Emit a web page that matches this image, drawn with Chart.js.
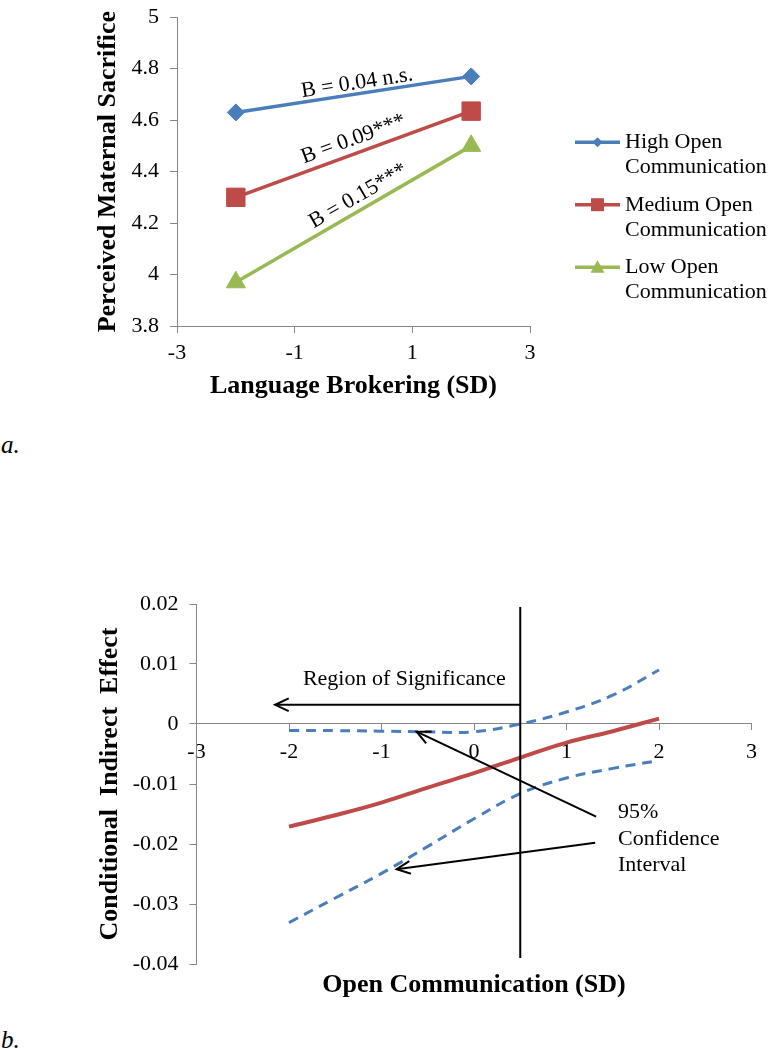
<!DOCTYPE html>
<html>
<head>
<meta charset="utf-8">
<script src="https://cdn.jsdelivr.net/npm/chart.js@4.4.0/dist/chart.umd.min.js"></script>
<style>
  html, body { margin: 0; padding: 0; background: #fff; }
  body { width: 768px; height: 1050px; position: relative; overflow: hidden; font-family: "Liberation Serif", "Times New Roman", serif; }
  .box { position: absolute; left: 0; width: 768px; }
  #box-a { top: -7px; height: 420px; }
  #box-b { top: 560px; height: 450px; }
  .tag { position: absolute; left: 1px; font-style: italic; font-size: 25px; line-height: 25px; color: #000; }
</style>
</head>
<body>
<div class="box" id="box-a"><canvas id="chart-a"></canvas></div>
<div class="tag" style="top:432px">a.</div>
<div class="box" id="box-b"><canvas id="chart-b"></canvas></div>
<div class="tag" style="top:1027px">b.</div>
<script>
// ---- panel a: simple slopes ----
const brokeringX = [-2, 2];
const highOpen = [4.63, 4.77];
const mediumOpen = [4.30, 4.635];
const lowOpen = [3.97, 4.50];
const seriesNames = ["High Open Communication", "Medium Open Communication", "Low Open Communication"];
const legendLines = [["High Open", "Communication"], ["Medium Open", "Communication"], ["Low Open", "Communication"]];
const slopeLabels = ["B = 0.04 n.s.", "B = 0.09***", "B = 0.15***"];
const slopeLabelX = [0.06, 0.0, 0.08];
const slopeLabelY = [4.744, 4.526, 4.305];

// ---- panel b: region of significance ----
const openX = [-2, -1.5, -1, -0.5, 0, 0.5, 1, 1.5, 2];
const indirectEffect = [-0.0171, -0.0152, -0.0131, -0.0106, -0.0082, -0.0056, -0.0031, -0.0012, 0.0009];
const ciUpper = [-0.0011, -0.0011, -0.0012, -0.0013, -0.0013, 0.0000, 0.0020, 0.0048, 0.0090];
const ciLower = [-0.0331, -0.0290, -0.0249, -0.0204, -0.0158, -0.0116, -0.0090, -0.0074, -0.0061];
const cutoffX = [0.5, 0.5];
const cutoffY = [0.0195, -0.039];
const regionArrowX = [0.5, -2.15];
const regionArrowY = [0.0032, 0.0032];
const ciArrow1X = [1.32, -0.62];
const ciArrow1Y = [-0.01545, -0.00128];
const ciArrow2X = [1.31, -0.836];
const ciArrow2Y = [-0.0198, -0.0242];
const regionText = "Region of Significance";
const regionTextPos = [-1.85, 0.0065];
const ciText = ["95%", "Confidence", "Interval"];
const ciTextPos = [1.557, -0.01567];

const blue = "#4A7EBB";
const red = "#BE4B48";
const green = "#98B954";
const axisGray = "#868686";
const serif = '"Liberation Serif", "Times New Roman", serif';

Chart.defaults.font.family = serif;
Chart.defaults.font.size = 22;
Chart.defaults.color = "#000";

const pts = (xs, ys) => xs.map((v, i) => ({ x: v, y: ys[i] }));

function marker(ctx, style, x, y, r) {
	ctx.beginPath();
	if (style === "rectRot") {
		ctx.moveTo(x, y - r); ctx.lineTo(x + r, y); ctx.lineTo(x, y + r); ctx.lineTo(x - r, y);
	} else if (style === "rect") {
		ctx.rect(x - r, y - r, 2 * r, 2 * r);
	} else {
		ctx.moveTo(x, y - r); ctx.lineTo(x + r, y + r * 0.8); ctx.lineTo(x - r, y + r * 0.8);
	}
	ctx.closePath();
	ctx.fill();
}

const slopeText = {
	id: "slopeText",
	afterDatasetsDraw(chart) {
		const { ctx } = chart;
		const { x, y } = chart.scales;
		ctx.save();
		ctx.font = "22px " + serif;
		ctx.fillStyle = "#000";
		ctx.textAlign = "center";
		ctx.textBaseline = "middle";
		slopeLabels.forEach((t, i) => {
			const p = chart.getDatasetMeta(i).data;
			const ang = Math.atan2(p[1].y - p[0].y, p[1].x - p[0].x);
			ctx.save();
			ctx.translate(x.getPixelForValue(slopeLabelX[i]), y.getPixelForValue(slopeLabelY[i]));
			ctx.rotate(ang);
			ctx.fillText(t, 0, 0);
			ctx.restore();
		});
		ctx.restore();
	},
	afterDraw(chart) {
		// legend on the right, two lines per entry
		const { ctx, chartArea } = chart;
		const sizes = [5, 6.5, 7];
		ctx.save();
		ctx.font = "22px " + serif;
		ctx.textAlign = "left";
		ctx.textBaseline = "alphabetic";
		chart.data.datasets.forEach((ds, i) => {
			const my = chartArea.top + 125 + i * 62.5;
			const x0 = chartArea.right + 45;
			ctx.strokeStyle = ds.borderColor;
			ctx.lineWidth = 3.5;
			ctx.beginPath();
			ctx.moveTo(x0, my);
			ctx.lineTo(x0 + 45, my);
			ctx.stroke();
			ctx.fillStyle = ds.borderColor;
			marker(ctx, ds.pointStyle, x0 + 22.5, my, sizes[i]);
			ctx.fillStyle = "#000";
			legendLines[i].forEach((line, j) => ctx.fillText(line, x0 + 50, my + 6 + j * 25));
		});
		ctx.restore();
	}
};

const chartA = new Chart(document.getElementById("chart-a"), {
	type: "line",
	data: {
		datasets: [
			{ label: seriesNames[0], data: pts(brokeringX, highOpen), borderColor: blue, backgroundColor: blue, pointStyle: "rectRot", pointRadius: 8.5 },
			{ label: seriesNames[1], data: pts(brokeringX, mediumOpen), borderColor: red, backgroundColor: red, pointStyle: "rect", pointRadius: 13 },
			{ label: seriesNames[2], data: pts(brokeringX, lowOpen), borderColor: green, backgroundColor: green, pointStyle: "triangle", pointRadius: 11 },
		],
	},
	options: {
		responsive: true,
		maintainAspectRatio: false,
		animation: false,
		events: [],
		datasets: { line: { borderWidth: 3.5, tension: 0, fill: false, pointBorderWidth: 1, clip: false } },
		layout: { padding: { top: 14, left: 78, right: 238, bottom: 7 } },
		scales: {
			x: {
				type: "linear",
				min: -3,
				max: 3,
				border: { color: axisGray, width: 1 },
				grid: { drawOnChartArea: false, tickLength: 7, color: axisGray },
				ticks: { stepSize: 2, padding: 7, maxRotation: 0, autoSkip: false },
				title: { display: true, text: "Language Brokering (SD)", font: { size: 26, weight: "bold" }, padding: { top: 0, bottom: 4 } },
				afterFit: (s) => { s.height = 80; },
			},
			y: {
				min: 3.8,
				max: 5,
				border: { color: axisGray, width: 1 },
				grid: { drawOnChartArea: false, tickLength: 7, color: axisGray },
				ticks: { stepSize: 0.2, padding: 11, autoSkip: false, callback: (v) => String(Number(v.toFixed(1))) },
				title: { display: true, text: "Perceived Maternal Sacrifice", font: { size: 26, weight: "bold" }, padding: { top: 15, bottom: 0 } },
				afterFit: (s) => { s.width = 99; },
			},
		},
		plugins: { legend: { display: false }, tooltip: { enabled: false } },
	},
	plugins: [slopeText],
});

const notes = {
	id: "notes",
	afterDatasetsDraw(chart) {
		const { ctx, chartArea } = chart;
		const { x, y } = chart.scales;
		ctx.save();
		// arrow heads on the annotation lines
		chart.data.datasets.forEach((ds, i) => {
			if (!ds.arrow) return;
			const p = chart.getDatasetMeta(i).data;
			const a = Math.atan2(p[1].y - p[0].y, p[1].x - p[0].x);
			const len = 15, spread = 0.44;
			ctx.strokeStyle = "#000";
			ctx.lineWidth = 2;
			ctx.beginPath();
			ctx.moveTo(p[1].x - len * Math.cos(a - spread), p[1].y - len * Math.sin(a - spread));
			ctx.lineTo(p[1].x, p[1].y);
			ctx.lineTo(p[1].x - len * Math.cos(a + spread), p[1].y - len * Math.sin(a + spread));
			ctx.stroke();
		});
		ctx.fillStyle = "#000";
		ctx.textAlign = "left";
		ctx.textBaseline = "alphabetic";
		ctx.font = "22px " + serif;
		ctx.fillText(regionText, x.getPixelForValue(regionTextPos[0]), y.getPixelForValue(regionTextPos[1]));
		const cx = x.getPixelForValue(ciTextPos[0]);
		const cy = y.getPixelForValue(ciTextPos[1]);
		ciText.forEach((t, j) => ctx.fillText(t, cx, cy + j * 26.7));
		// x axis title sits under the plot, the axis itself crosses at zero
		ctx.font = "bold 26px " + serif;
		ctx.textAlign = "center";
		ctx.fillText("Open Communication (SD)", (chartArea.left + chartArea.right) / 2, chartArea.bottom + 28);
		ctx.restore();
	}
};

const chartB = new Chart(document.getElementById("chart-b"), {
	type: "line",
	data: {
		datasets: [
			{ data: pts(cutoffX, cutoffY), borderColor: "#000", borderWidth: 2, order: 0 },
			{ data: pts(regionArrowX, regionArrowY), borderColor: "#000", borderWidth: 2, arrow: true, order: 0 },
			{ data: pts(ciArrow1X, ciArrow1Y), borderColor: "#000", borderWidth: 2, arrow: true, order: 0 },
			{ data: pts(ciArrow2X, ciArrow2Y), borderColor: "#000", borderWidth: 2, arrow: true, order: 0 },
			{ label: "Conditional indirect effect", data: pts(openX, indirectEffect), borderColor: red, borderWidth: 4, tension: 0.4, order: 1 },
			{ label: "Upper 95% CI", data: pts(openX, ciUpper), borderColor: blue, borderWidth: 3, borderDash: [10, 7], tension: 0.4, order: 1 },
			{ label: "Lower 95% CI", data: pts(openX, ciLower), borderColor: blue, borderWidth: 3, borderDash: [10, 7], tension: 0.4, order: 1 },
		],
	},
	options: {
		responsive: true,
		maintainAspectRatio: false,
		animation: false,
		events: [],
		datasets: { line: { pointRadius: 0, fill: false, clip: false } },
		layout: { padding: { top: 44, left: 80, right: 16.5, bottom: 46 } },
		scales: {
			x: {
				type: "linear",
				position: { y: 0 },
				min: -3,
				max: 3,
				border: { color: axisGray, width: 1 },
				grid: { drawOnChartArea: false, tickLength: 6, color: axisGray },
				ticks: { stepSize: 1, padding: 9, maxRotation: 0, autoSkip: false },
			},
			y: {
				position: "left",
				min: -0.04,
				max: 0.02,
				border: { color: axisGray, width: 1 },
				grid: { drawOnChartArea: false, tickLength: 7, color: axisGray },
				ticks: { stepSize: 0.01, padding: 11, autoSkip: false, callback: (v) => String(Number(v.toFixed(2))) },
				title: { display: true, text: "Conditional  Indirect  Effect", font: { size: 26, weight: "bold" }, padding: { top: 14.4, bottom: 0 } },
				afterFit: (s) => { s.width = 116.5; },
			},
		},
		plugins: { legend: { display: false }, tooltip: { enabled: false } },
	},
	plugins: [notes],
});
</script>
</body>
</html>
